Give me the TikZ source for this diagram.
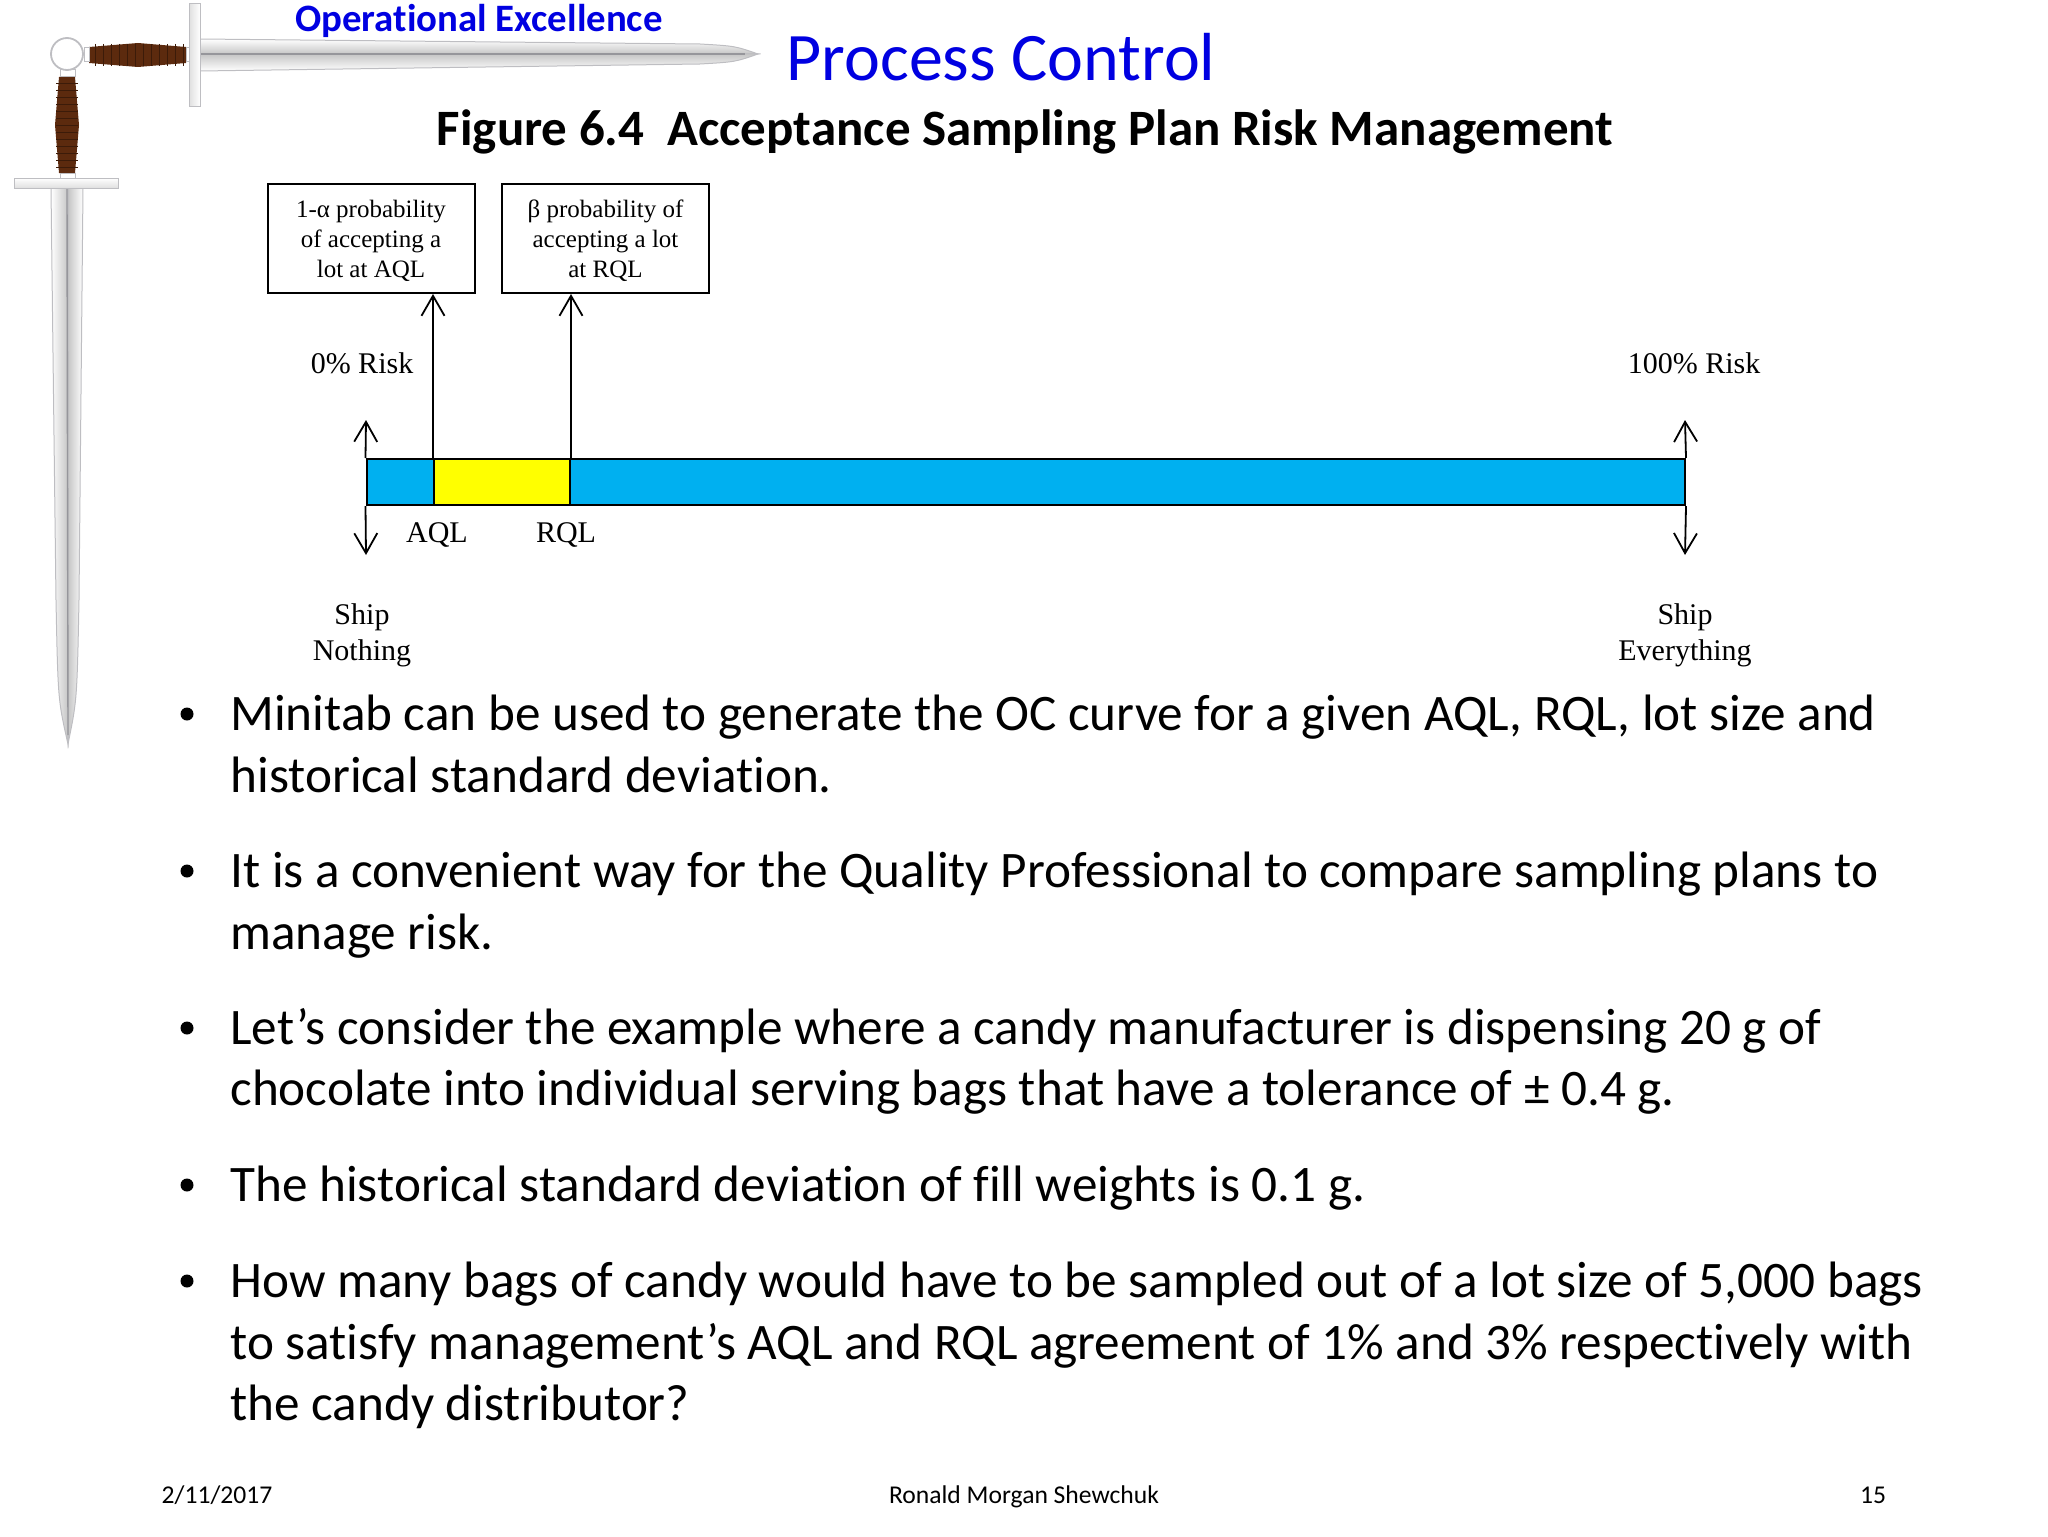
\documentclass[tikz,border=0pt]{standalone}
\usepackage{fontspec}
\setmainfont[Ligatures=NoCommon]{Carlito}
\newfontfamily\serifface{Liberation Serif}
\usetikzlibrary{arrows.meta}
\definecolor{barblue}{RGB}{0,176,240}
\definecolor{baryellow}{RGB}{255,255,0}
\definecolor{titleblue}{RGB}{0,0,225}
\definecolor{gripbrown}{RGB}{92,42,14}
\definecolor{bladeline}{RGB}{150,150,155}
\definecolor{bladeedge}{RGB}{190,190,194}
\tikzset{
riskbox/.style={draw=black, line width=1pt, minimum width=103.5pt, minimum height=54.5pt, inner sep=0pt, align=center, font=\serifface\fontsize{12.5}{14.9}\selectfont},
barpart/.style={draw=black, line width=1pt, minimum height=23pt, inner sep=0pt},
risklabel/.style={inner sep=0pt, align=center, font=\serifface\fontsize{15}{18}\selectfont},
riskarrow/.style={line width=0.9pt, -{Straight Barb[length=10pt,width=11.5pt,line width=0.9pt]}},
bullettext/.style={anchor=north west, inner sep=0pt, align=left, font=\fontsize{25.6}{30.7}\selectfont},
bulletdot/.style={circle, fill=black, inner sep=0pt, minimum size=6.5pt},
footer/.style={inner sep=0pt, text height=9pt, text depth=3pt, font=\fontsize{12.8}{15}\selectfont},
metal/.style={draw=bladeedge, line width=0.5pt},
}
\begin{document}
\begin{tikzpicture}[x=0.5pt, y=-0.5pt]
\useasboundingbox (0,0) rectangle (2048,1536);
% horizontal sword
\draw[metal, top color=white, bottom color=gray!45] (200,39) -- (700,44) .. controls (735,46) .. (758,54) -- (200,54) -- cycle;
\draw[metal, top color=gray!45, bottom color=white] (200,71) -- (700,64) .. controls (735,62) .. (758,54) -- (200,54) -- cycle;
\draw[bladeline, line width=0.7pt] (200,54) -- (745,54);
\draw[metal, left color=gray!25, right color=white] (189,4) rectangle (200,107);
\fill[gripbrown] (89,47) -- (138,43) -- (186,47) -- (186,63) -- (138,67) -- (89,63) -- cycle;
\foreach \xpos in {95,103,...,183}
\draw[black!35!gripbrown, line width=0.4pt] (\xpos,44) -- (\xpos,66);
\draw[metal, fill=white] (186,48) rectangle (189,62);
\draw[metal, fill=white] (84,48) rectangle (89,62);
% vertical sword
\draw[metal, left color=white, right color=gray!45] (51,188) -- (56,600) .. controls (58,700) .. (68,744) -- (68,188) -- cycle;
\draw[metal, left color=gray!45, right color=white] (83,188) -- (79,600) .. controls (77,700) .. (68,744) -- (68,188) -- cycle;
\draw[bladeline, line width=0.7pt] (67,188) -- (68,735);
\draw[metal, top color=white, bottom color=gray!25] (14,178) rectangle (118,188);
\fill[gripbrown] (59,77) -- (75,77) -- (79,125) -- (75,173) -- (59,173) -- (55,125) -- cycle;
\foreach \ypos in {83,90,...,170}
\draw[black!35!gripbrown, line width=0.4pt] (56,\ypos) -- (78,\ypos);
\draw[metal, fill=white] (60,70) rectangle (75,77);
\draw[metal, fill=white] (60,173) rectangle (75,178);
\draw[bladeedge, line width=0.9pt, fill=white] (67,54) circle [radius=16];
% titles
\node[inner sep=0pt, text=titleblue, font=\bfseries\fontsize{19.4}{24}\selectfont] (opex) at (479,21) {Operational Excellence};
\node[inner sep=0pt, text=titleblue, font=\fontsize{34}{40}\selectfont] (process) at (1001,57) {Process Control};
\node[inner sep=0pt, text=black, font=\bfseries\fontsize{25.5}{29}\selectfont] (figtitle) at (1025,132) {Figure 6.4\ \ Acceptance Sampling Plan Risk Management};
% risk boxes
\node[riskbox] (alphabox) at (371,238.5) {\rule{0pt}{11.1pt}1-α probability\\of accepting a\\lot at AQL};
\node[riskbox] (betabox) at (605.5,238.5) {\rule{0pt}{11.1pt}β probability of\\accepting a lot\\at RQL};
% bar
\node[barpart, fill=barblue, minimum width=33.5pt] (leftbar) at (400,482) {};
\node[barpart, fill=baryellow, minimum width=68pt] (midbar) at (502,482) {};
\node[barpart, fill=barblue, minimum width=557.5pt] (rightbar) at (1127.5,482) {};
\coordinate (lefttop) at (366,420);
\coordinate (leftbottom) at (366,555);
\coordinate (righttop) at (1685,420);
\coordinate (rightbottom) at (1685,555);
\draw[riskarrow] (midbar.north west) -- (midbar.north west |- alphabox.south);
\draw[riskarrow] (midbar.north east) -- (midbar.north east |- betabox.south);
\draw[riskarrow] (leftbar.north west) -- (lefttop);
\draw[riskarrow] (leftbar.south west) -- (leftbottom);
\draw[riskarrow] (rightbar.north east) -- (righttop);
\draw[riskarrow] (rightbar.south east) -- (rightbottom);
\node[risklabel] (zerorisk) at (362,363) {0\% Risk};
\node[risklabel] (fullrisk) at (1694,363) {100\% Risk};
\node[risklabel] (aql) at (437,535) {AQL};
\node[risklabel] (rql) at (566,535) {RQL};
\node[risklabel] (shipnone) at (362,635) {Ship\\Nothing};
\node[risklabel] (shipall) at (1685,635) {Ship\\Everything};
% bullets
\foreach \ypos in {714,871,1028,1185,1281}
\node[bulletdot] (dot\ypos) at (187,\ypos) {};
\node[bullettext] (minitab) at (230,695) {Minitab can be used to generate the OC curve for a given AQL, RQL, lot size and\\historical standard deviation.};
\node[bullettext] (convenient) at (230,852) {It is a convenient way for the Quality Professional to compare sampling plans to\\manage risk.};
\node[bullettext] (candy) at (230,1008) {Let’s consider the example where a candy manufacturer is dispensing 20 g of\\chocolate into individual serving bags that have a tolerance of ± 0.4 g.};
\node[bullettext] (historical) at (230,1166) {The historical standard deviation of fill weights is 0.1 g.};
\node[bullettext] (howmany) at (230,1262) {How many bags of candy would have to be sampled out of a lot size of 5,000 bags\\to satisfy management’s AQL and RQL agreement of 1\% and 3\% respectively with\\the candy distributor?};
% footer
\node[footer] (date) at (217,1497) {2/11/2017};
\node[footer] (presenter) at (1024,1497) {Ronald Morgan Shewchuk};
\node[footer] (pagenum) at (1873,1497) {15};
\end{tikzpicture}
\end{document}
